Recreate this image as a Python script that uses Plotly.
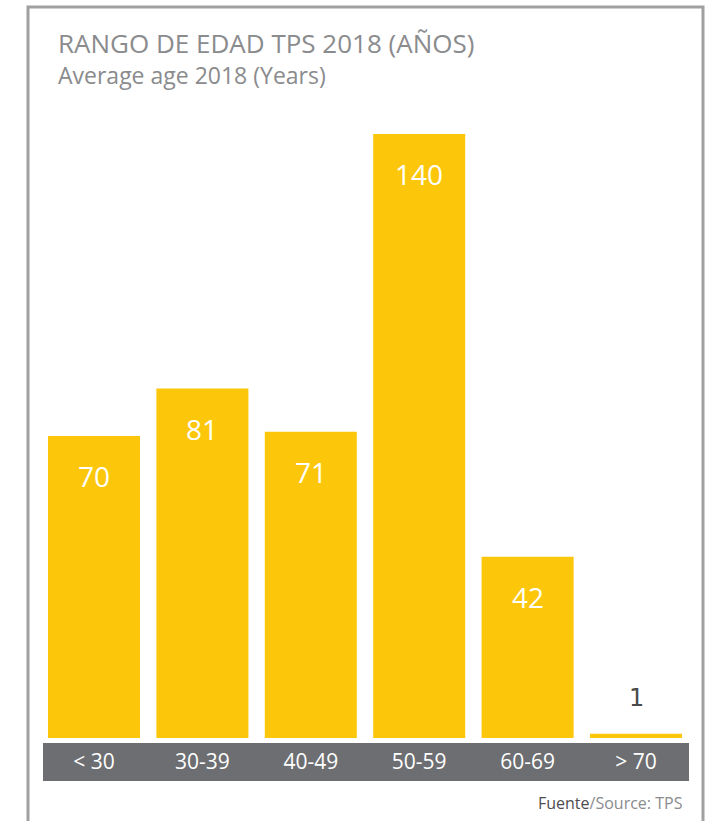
import plotly.graph_objects as go

categories = ["< 30", "30-39", "40-49", "50-59", "60-69", "> 70"]
values = [70, 81, 71, 140, 42, 1]
title_text = "RANGO DE EDAD TPS 2018 (AÑOS)"
subtitle_text = "Average age 2018 (Years)"

W, H = 712, 821
def px(x): return x / W
def py(y): return (H - y) / H

BAR = "#FCC70B"
BAND = "#6D6E71"
FONT = "Open Sans"

fig = go.Figure()
fig.add_trace(go.Bar(x=categories, y=values, marker=dict(color=BAR, line=dict(width=0)),
                     hoverinfo="skip"))

annotations = []
for c, v in zip(categories, values):
    if v >= 10:
        annotations.append(dict(x=c, y=v, xref="x", yref="y", text=str(v), showarrow=False,
                                yshift=-40, font=dict(family=FONT, size=28, color="white")))
    else:
        annotations.append(dict(x=c, y=v, xref="x", yref="y", text=str(v), showarrow=False,
                                yshift=36, font=dict(family="DejaVu Sans", size=24, color="#4a4a4a")))

annotations += [
    dict(x=px(56), y=py(43), xref="paper", yref="paper", xanchor="left", yanchor="middle",
         text=title_text, showarrow=False, font=dict(family=FONT, size=26, color="#8a8b8d")),
    dict(x=px(56), y=py(75), xref="paper", yref="paper", xanchor="left", yanchor="middle",
         text=subtitle_text, showarrow=False, font=dict(family=FONT, size=23, color="#8a8b8d")),
    dict(x=px(685), y=py(803), xref="paper", yref="paper", xanchor="right", yanchor="middle",
         text="<span style='color:#4d4d4f'>Fuente</span>/Source: TPS", showarrow=False,
         font=dict(family=FONT, size=16, color="#8a8b8d")),
]

shapes = [
    dict(type="rect", xref="paper", yref="paper", x0=px(28), x1=px(703), y0=-0.05, y1=py(7),
         line=dict(color="#a0a0a2", width=3), fillcolor="rgba(0,0,0,0)", layer="below"),
    dict(type="rect", xref="paper", yref="paper", x0=px(43), x1=px(689), y0=py(781), y1=py(743),
         line=dict(width=0), fillcolor=BAND, layer="below"),
]

fig.update_layout(
    width=W, height=H,
    margin=dict(l=0, r=0, t=0, b=0),
    paper_bgcolor="white", plot_bgcolor="rgba(0,0,0,0)",
    showlegend=False,
    bargap=0.151,
    xaxis=dict(domain=[px(39.8), px(690.2)], showgrid=False, zeroline=False, showline=False,
               ticks="outside", ticklen=5, tickcolor="rgba(0,0,0,0)",
               tickfont=dict(family=FONT, size=21, color="white"), fixedrange=True),
    yaxis=dict(domain=[py(738), py(134)], range=[0, 140], visible=False, fixedrange=True),
    annotations=annotations,
    shapes=shapes,
)

fig.write_html("out.html")
